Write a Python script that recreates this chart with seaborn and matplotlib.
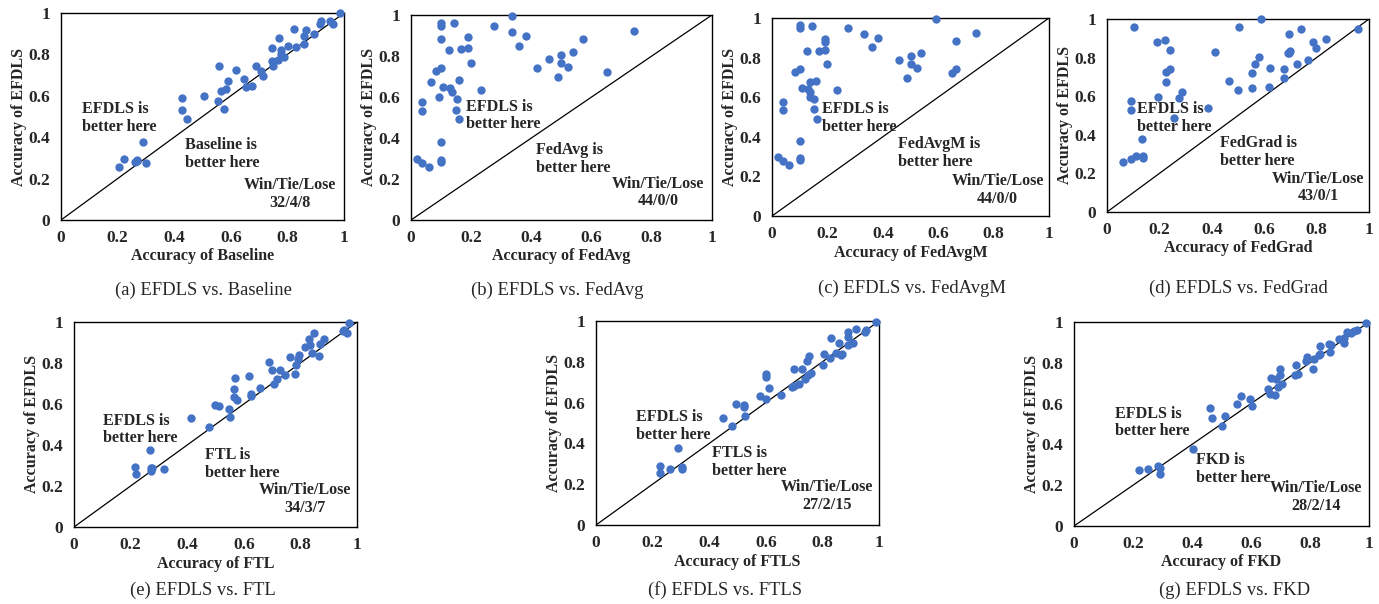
import matplotlib
matplotlib.use("Agg")
import matplotlib.pyplot as plt
import seaborn as sns
import pandas as pd

# ---------------- data ----------------
baseline_x = [0.985, 0.92, 0.914, 0.952, 0.961, 0.824, 0.865, 0.858, 0.895, 0.771, 0.859, 0.802, 0.832,
              0.744, 0.779, 0.779, 0.787, 0.767, 0.744, 0.749, 0.688, 0.706, 0.714, 0.559, 0.62, 0.647,
              0.589, 0.655, 0.676, 0.582, 0.565, 0.507, 0.555, 0.576, 0.426, 0.426, 0.444, 0.291, 0.224,
              0.205, 0.261, 0.267, 0.30, 0.27]
baseline_y = [1.0, 0.963, 0.948, 0.96, 0.948, 0.922, 0.916, 0.89, 0.897, 0.879, 0.852, 0.839, 0.834,
              0.831, 0.823, 0.803, 0.787, 0.771, 0.766, 0.742, 0.745, 0.721, 0.694, 0.742, 0.726, 0.682,
              0.673, 0.642, 0.648, 0.632, 0.624, 0.597, 0.577, 0.537, 0.587, 0.529, 0.487, 0.376, 0.294,
              0.258, 0.282, 0.287, 0.274, 0.29]

fedavg_x = [0.334, 0.099, 0.099, 0.143, 0.276, 0.334, 0.383, 0.189, 0.099, 0.571, 0.740, 0.360, 0.125,
            0.166, 0.189, 0.499, 0.539, 0.200, 0.499, 0.459, 0.418, 0.523, 0.084, 0.100, 0.650, 0.488,
            0.068, 0.158, 0.107, 0.128, 0.137, 0.233, 0.094, 0.152, 0.038, 0.038, 0.149, 0.161, 0.099,
            0.019, 0.099, 0.099, 0.038, 0.061]
fedavg_y = [0.997, 0.963, 0.946, 0.959, 0.948, 0.919, 0.898, 0.891, 0.881, 0.881, 0.922, 0.850, 0.831,
            0.834, 0.839, 0.805, 0.821, 0.767, 0.767, 0.787, 0.743, 0.748, 0.727, 0.740, 0.720, 0.696,
            0.673, 0.683, 0.647, 0.642, 0.626, 0.634, 0.598, 0.589, 0.577, 0.532, 0.537, 0.491, 0.379,
            0.298, 0.293, 0.283, 0.278, 0.259]

fedavgm_x = [0.592, 0.100, 0.100, 0.144, 0.276, 0.333, 0.384, 0.190, 0.190, 0.738, 0.663, 0.360, 0.126,
             0.168, 0.190, 0.500, 0.539, 0.200, 0.500, 0.460, 0.522, 0.084, 0.100, 0.663, 0.651, 0.486,
             0.136, 0.160, 0.109, 0.130, 0.138, 0.234, 0.136, 0.152, 0.040, 0.040, 0.150, 0.164, 0.100,
             0.022, 0.100, 0.100, 0.040, 0.062]
fedavgm_y = [0.997, 0.963, 0.949, 0.961, 0.951, 0.919, 0.899, 0.894, 0.880, 0.922, 0.885, 0.852, 0.831,
             0.835, 0.840, 0.806, 0.823, 0.769, 0.769, 0.789, 0.747, 0.727, 0.740, 0.744, 0.722, 0.696,
             0.675, 0.683, 0.648, 0.643, 0.627, 0.634, 0.600, 0.590, 0.578, 0.533, 0.540, 0.491, 0.379,
             0.297, 0.292, 0.283, 0.278, 0.260]

fedgrad_x = [0.589, 0.102, 0.505, 0.958, 0.740, 0.693, 0.834, 0.787, 0.189, 0.223, 0.797, 0.241, 0.412,
             0.697, 0.690, 0.581, 0.768, 0.565, 0.727, 0.621, 0.675, 0.241, 0.225, 0.553, 0.464, 0.675,
             0.226, 0.617, 0.499, 0.553, 0.286, 0.194, 0.273, 0.091, 0.091, 0.387, 0.256, 0.135, 0.110,
             0.137, 0.137, 0.091, 0.062, 0.695]
fedgrad_y = [1.000, 0.960, 0.960, 0.950, 0.948, 0.921, 0.898, 0.883, 0.883, 0.891, 0.851, 0.839, 0.831,
             0.834, 0.822, 0.805, 0.788, 0.767, 0.767, 0.748, 0.743, 0.741, 0.727, 0.720, 0.680, 0.696,
             0.672, 0.648, 0.632, 0.641, 0.623, 0.598, 0.589, 0.577, 0.528, 0.537, 0.487, 0.377, 0.292,
             0.290, 0.282, 0.275, 0.257, 0.826]

ftl_x = [0.972, 0.949, 0.965, 0.847, 0.831, 0.882, 0.868, 0.835, 0.818, 0.841, 0.866, 0.763, 0.794,
         0.790, 0.786, 0.688, 0.699, 0.729, 0.744, 0.781, 0.718, 0.705, 0.618, 0.570, 0.658, 0.566,
         0.625, 0.627, 0.566, 0.577, 0.499, 0.512, 0.546, 0.550, 0.415, 0.476, 0.267, 0.215, 0.219,
         0.272, 0.271, 0.317, 0.275, 0.955]
ftl_y = [0.995, 0.958, 0.946, 0.945, 0.915, 0.919, 0.894, 0.886, 0.880, 0.850, 0.833, 0.829, 0.837,
         0.821, 0.789, 0.803, 0.766, 0.766, 0.743, 0.746, 0.720, 0.698, 0.738, 0.725, 0.680, 0.672,
         0.647, 0.639, 0.633, 0.621, 0.597, 0.589, 0.576, 0.535, 0.530, 0.486, 0.377, 0.294, 0.257,
         0.289, 0.275, 0.281, 0.286, 0.960]

ftls_x = [0.991, 0.920, 0.953, 0.891, 0.952, 0.832, 0.891, 0.859, 0.891, 0.908, 0.847, 0.867, 0.805,
          0.828, 0.753, 0.746, 0.802, 0.701, 0.727, 0.760, 0.749, 0.739, 0.718, 0.694, 0.600, 0.600,
          0.612, 0.653, 0.581, 0.599, 0.494, 0.522, 0.522, 0.527, 0.447, 0.481, 0.291, 0.226, 0.226,
          0.261, 0.304, 0.304, 0.870, 0.700]
ftls_y = [0.997, 0.959, 0.956, 0.948, 0.944, 0.915, 0.923, 0.891, 0.882, 0.891, 0.845, 0.833, 0.837,
          0.817, 0.828, 0.804, 0.784, 0.763, 0.763, 0.743, 0.735, 0.716, 0.693, 0.678, 0.740, 0.724,
          0.670, 0.637, 0.632, 0.618, 0.593, 0.587, 0.577, 0.534, 0.526, 0.485, 0.376, 0.291, 0.253,
          0.273, 0.283, 0.276, 0.840, 0.683]

fkd_x = [0.991, 0.959, 0.925, 0.939, 0.899, 0.914, 0.914, 0.835, 0.864, 0.869, 0.829, 0.835, 0.790,
         0.787, 0.812, 0.810, 0.753, 0.758, 0.750, 0.699, 0.699, 0.705, 0.693, 0.669, 0.686, 0.657,
         0.665, 0.682, 0.597, 0.603, 0.566, 0.552, 0.462, 0.469, 0.512, 0.500, 0.402, 0.222, 0.251,
         0.285, 0.290, 0.292, 0.871, 0.950]
fkd_y = [0.997, 0.962, 0.951, 0.948, 0.918, 0.922, 0.899, 0.882, 0.891, 0.853, 0.837, 0.842, 0.828,
         0.807, 0.820, 0.768, 0.788, 0.747, 0.742, 0.768, 0.739, 0.698, 0.681, 0.727, 0.722, 0.673,
         0.649, 0.641, 0.621, 0.588, 0.636, 0.596, 0.578, 0.531, 0.538, 0.489, 0.379, 0.276, 0.281,
         0.294, 0.286, 0.257, 0.889, 0.955]

method_names = ["Baseline", "FedAvg", "FedAvgM", "FedGrad", "FTL", "FTLS", "FKD"]
panel_letters = ["a", "b", "c", "d", "e", "f", "g"]
win_tie_lose = ["32/4/8", "44/0/0", "44/0/0", "43/0/1", "34/3/7", "27/2/15", "28/2/14"]
tick_values = [0, 0.2, 0.4, 0.6, 0.8, 1]
tick_labels = ["0", "0.2", "0.4", "0.6", "0.8", "1"]

xs = [baseline_x, fedavg_x, fedavgm_x, fedgrad_x, ftl_x, ftls_x, fkd_x]
ys = [baseline_y, fedavg_y, fedavgm_y, fedgrad_y, ftl_y, ftls_y, fkd_y]

# ---------------- layout (pixel boxes: left, top, right, bottom) ----------------
W, H = 1379, 604
boxes = [(61, 13, 344, 220), (411, 15, 712, 220), (772, 18, 1049, 216), (1107, 19, 1369, 212),
         (74, 322, 357, 527), (596, 321, 879, 525), (1074, 322, 1369, 526)]
captions_xy = [(203, 290), (557, 290), (912, 288), (1238, 288), (203, 590), (725, 590), (1235, 590)]
efdls_pos = [(0.073, 0.492), (0.182, 0.51), (0.18, 0.494), (0.114, 0.485), (0.104, 0.476), (0.14, 0.484), (0.14, 0.507)]
other_pos = [(0.438, 0.317), (0.414, 0.298), (0.456, 0.32), (0.431, 0.31), (0.463, 0.309), (0.41, 0.308), (0.414, 0.278)]
wtl_pos = [(0.81, 0.127), (0.821, 0.134), (0.814, 0.131), (0.806, 0.127), (0.815, 0.135), (0.816, 0.144), (0.82, 0.142)]

sns.set_theme(style="white")
plt.rcParams['font.family'] = ['Liberation Serif', 'DejaVu Serif']

fig = plt.figure(figsize=(W / 100, H / 100), dpi=100)
fig.patch.set_facecolor("white")

blue = "#4472C4"
for i in range(7):
    l, t, r, b = boxes[i]
    ax = fig.add_axes([l / W, 1 - b / H, (r - l) / W, (b - t) / H])
    df = pd.DataFrame({"x": xs[i], "y": ys[i]})
    ax.plot([0, 1], [0, 1], color="black", lw=0.9, zorder=1)
    sns.scatterplot(data=df, x="x", y="y", ax=ax, color=blue, s=36, edgecolor=blue,
                    linewidth=0, zorder=3, clip_on=False, legend=False)
    ax.set_xlim(0, 1)
    ax.set_ylim(0, 1)
    ax.set_xticks(tick_values)
    ax.set_yticks(tick_values)
    ax.set_xticklabels(tick_labels, fontsize=12.5, fontweight="bold")
    ax.set_yticklabels(tick_labels, fontsize=12.5, fontweight="bold")
    ax.tick_params(axis="x", length=0, pad=7)
    ax.tick_params(axis="y", length=0, pad=8)
    for sp in ax.spines.values():
        sp.set_color("black")
        sp.set_linewidth(1.0)
    ax.set_xlabel("Accuracy of " + method_names[i], fontsize=11.5, fontweight="bold", labelpad=2)
    ax.set_ylabel("Accuracy of EFDLS", fontsize=11.5, fontweight="bold", labelpad=1)
    ax.grid(False)
    ax.text(efdls_pos[i][0], efdls_pos[i][1], "EFDLS is\nbetter here", fontsize=11.6, fontweight="bold",
            ha="left", va="center", linespacing=1.15)
    ax.text(other_pos[i][0], other_pos[i][1], method_names[i] + " is\nbetter here", fontsize=11.6,
            fontweight="bold", ha="left", va="center", linespacing=1.15)
    ax.text(wtl_pos[i][0], wtl_pos[i][1], "Win/Tie/Lose\n" + win_tie_lose[i], fontsize=11.6,
            fontweight="bold", ha="center", va="center", linespacing=1.15)
    cx, cy = captions_xy[i]
    fig.text(cx / W, 1 - cy / H, "(" + panel_letters[i] + ") EFDLS vs. " + method_names[i],
             fontsize=13.4, ha="center", va="center")

fig.savefig("out.png", dpi=100, facecolor="white")
